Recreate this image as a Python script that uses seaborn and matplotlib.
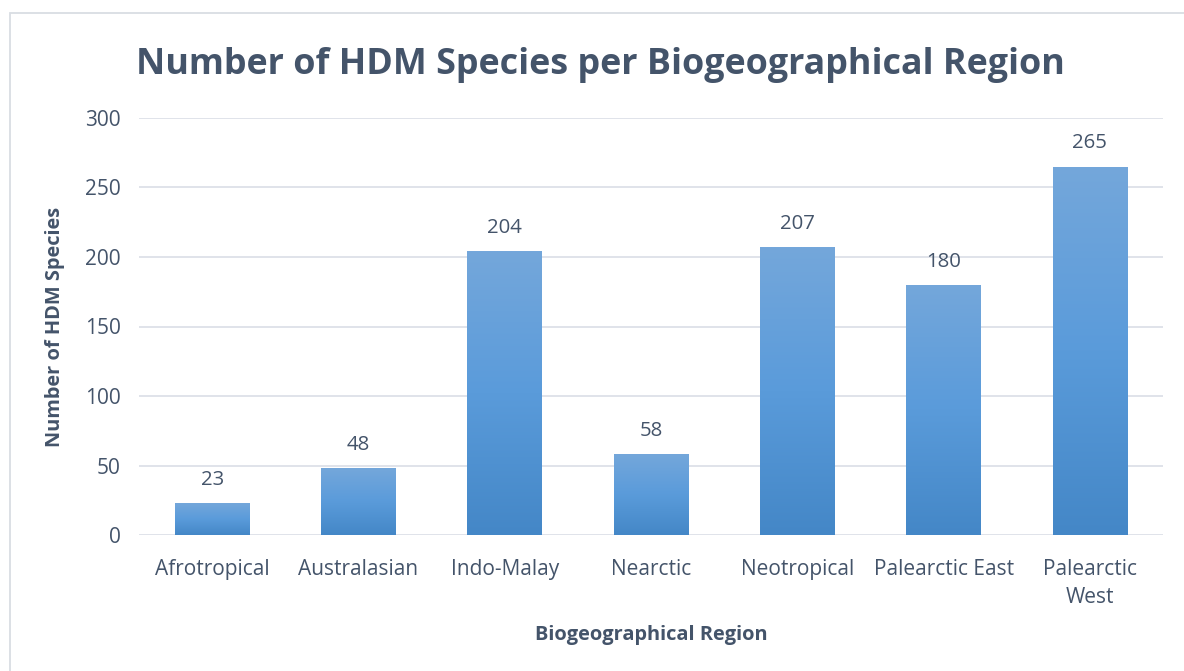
import numpy as np
import pandas as pd
import matplotlib
matplotlib.use("Agg")
import matplotlib.pyplot as plt
from matplotlib.colors import LinearSegmentedColormap
from matplotlib.patches import Rectangle
import seaborn as sns

regions = ["Afrotropical", "Australasian", "Indo-Malay", "Nearctic",
           "Neotropical", "Palearctic East", "Palearctic\nWest"]
species = [23, 48, 204, 58, 207, 180, 265]
yticks = [0, 50, 100, 150, 200, 250, 300]

TEXT = "#44546A"
GRID = "#DDE1E8"
FONT = ["Open Sans", "DejaVu Sans"]

sns.set_theme(style="white")
plt.rcParams["font.family"] = FONT

df = pd.DataFrame({"region": regions, "species": species})

fig = plt.figure(figsize=(11.84, 6.71), dpi=100)
ax = fig.add_axes([139 / 1184, 1 - 535 / 671, 1024 / 1184, 417 / 671])

sns.barplot(data=df, x="region", y="species", color="#5B9BD5",
            width=0.51, ax=ax, zorder=3)

# vertical gradient fill for each bar
cmap = LinearSegmentedColormap.from_list("bar", ["#4487C7", "#5A9BDA", "#74A7DB"])
grad = np.linspace(0, 1, 256).reshape(-1, 1)
for p in ax.patches:
    x0, y0 = p.get_x(), p.get_y()
    w, h = p.get_width(), p.get_height()
    p.set_facecolor("none")
    p.set_edgecolor("none")
    im = ax.imshow(grad, cmap=cmap, origin="lower", aspect="auto",
                   extent=[x0, x0 + w, y0, y0 + h], zorder=3)
    im.set_clip_path(p)
    ax.text(x0 + w / 2, y0 + h + 9.5, f"{int(h)}", ha="center", va="bottom",
            fontsize=14.7, color=TEXT)

ax.set_xlim(-0.5, len(regions) - 0.5)
ax.set_ylim(0, 300)
ax.set_yticks(yticks)
ax.set_yticklabels([str(t) for t in yticks])
ax.grid(axis="y", color=GRID, linewidth=1.3, zorder=0)
ax.set_axisbelow(True)
for s in ax.spines.values():
    s.set_visible(False)
ax.tick_params(axis="both", length=0, labelsize=15, labelcolor=TEXT)
ax.tick_params(axis="x", pad=17)
ax.tick_params(axis="y", pad=13)
for lbl in ax.get_xticklabels():
    lbl.set_linespacing(1.45)

ax.set_xlabel("Biogeographical Region", fontsize=14.4, fontweight="bold",
              color=TEXT)
ax.set_ylabel("Number of HDM Species", fontsize=14.4, fontweight="bold",
              color=TEXT)
ax.xaxis.set_label_coords(0.5, -0.216)
ax.yaxis.set_label_coords(-0.072, 0.5)

fig.text(600 / 1184, 1 - 65 / 671, "Number of HDM Species per Biogeographical Region",
         ha="center", va="center", fontsize=25.8, fontweight="bold", color=TEXT)

# chart frame
fig.patches.append(Rectangle((10 / 1184, -0.05), 1.2, 1 - 13 / 671 + 0.05,
                             transform=fig.transFigure, fill=False,
                             edgecolor="#D9DDE3", linewidth=1.3))

fig.savefig("out.png", dpi=100, facecolor="white")
